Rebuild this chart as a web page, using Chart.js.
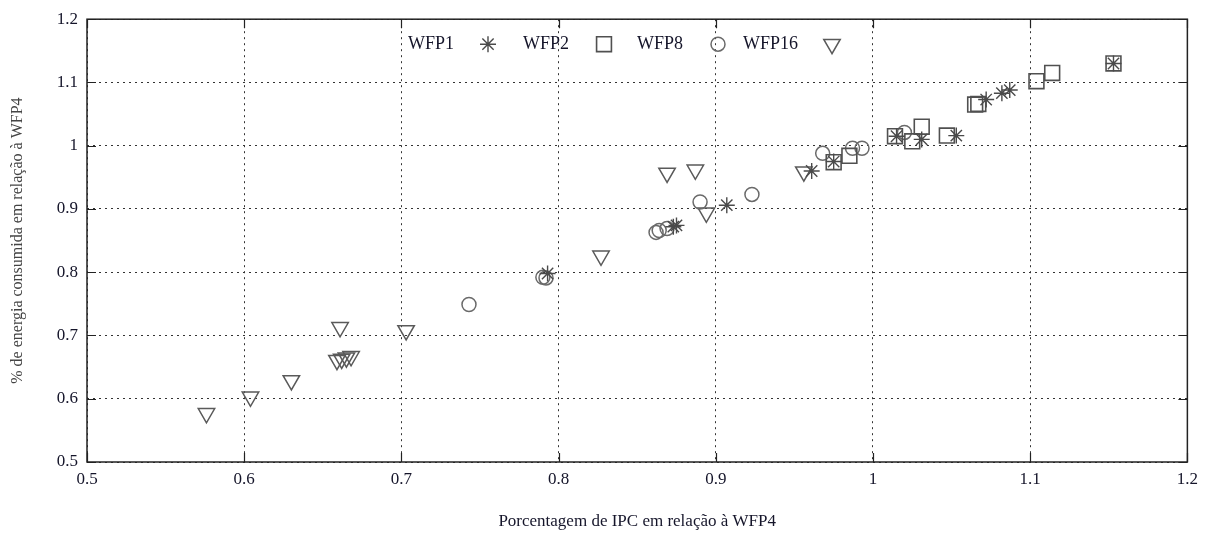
<!DOCTYPE html>
<html>
<head>
<meta charset="utf-8">
<script src="https://cdn.jsdelivr.net/npm/chart.js@4/dist/chart.umd.min.js"></script>
<style>
html,body{margin:0;padding:0;background:#fff;}
#wrap{width:1205px;height:536px;position:relative;}
</style>
</head>
<body>
<div id="wrap"><canvas id="c" width="1205" height="536"></canvas></div>
<script>
const seriesLabels = ["WFP1", "WFP2", "WFP8", "WFP16"];

const wfp1X = [0.793, 0.873, 0.875, 0.907, 0.961, 0.975, 1.015, 1.031, 1.053, 1.072, 1.082, 1.087, 1.153];
const wfp1Y = [0.798, 0.872, 0.874, 0.906, 0.960, 0.975, 1.015, 1.010, 1.016, 1.073, 1.083, 1.088, 1.130];

const wfp2X = [0.975, 0.985, 1.014, 1.025, 1.031, 1.047, 1.065, 1.067, 1.104, 1.114, 1.153];
const wfp2Y = [0.974, 0.984, 1.015, 1.007, 1.030, 1.016, 1.065, 1.066, 1.102, 1.115, 1.130];

const wfp8X = [0.743, 0.790, 0.792, 0.862, 0.864, 0.869, 0.890, 0.923, 0.968, 0.987, 0.993, 1.020];
const wfp8Y = [0.749, 0.792, 0.791, 0.863, 0.866, 0.869, 0.911, 0.923, 0.988, 0.996, 0.996, 1.021];

const wfp16X = [0.576, 0.604, 0.630, 0.659, 0.662, 0.665, 0.668, 0.661, 0.703, 0.827, 0.869, 0.887, 0.894, 0.956];
const wfp16Y = [0.577, 0.603, 0.629, 0.661, 0.663, 0.665, 0.667, 0.713, 0.708, 0.826, 0.957, 0.962, 0.894, 0.959];

const tickValues = [0.5, 0.6, 0.7, 0.8, 0.9, 1.0, 1.1, 1.2];

function pts(xs, ys){ return xs.map((x,i)=>({x:x, y:ys[i]})); }

const serif = "'Liberation Serif', 'DejaVu Serif', serif";
const textColor = '#15152a';

const styles = [
  {pointStyle:'star', radius:8, rotation:0, color:'#4a4a4a', width:1.4},
  {pointStyle:'rect', radius:10.5, rotation:0, color:'#505050', width:1.6},
  {pointStyle:'circle', radius:7, rotation:0, color:'#6a6a6a', width:1.5},
  {pointStyle:'triangle', radius:9.5, rotation:180, color:'#5a5a5a', width:1.5}
];
const dataSets = [pts(wfp1X,wfp1Y), pts(wfp2X,wfp2Y), pts(wfp8X,wfp8Y), pts(wfp16X,wfp16Y)];

const frame = {
  id:'frame',
  afterDraw(chart){
    const ctx = chart.ctx, a = chart.chartArea;
    const xs = chart.scales.x, ys = chart.scales.y;
    ctx.save();
    ctx.strokeStyle = '#222';
    ctx.lineWidth = 1.2;
    ctx.beginPath();
    tickValues.forEach(v=>{
      const px = Math.round(xs.getPixelForValue(v))+0.5;
      ctx.moveTo(px, a.bottom); ctx.lineTo(px, a.bottom-9);
      ctx.moveTo(px, a.top); ctx.lineTo(px, a.top+9);
      const py = Math.round(ys.getPixelForValue(v))+0.5;
      ctx.moveTo(a.left, py); ctx.lineTo(a.left+9, py);
      ctx.moveTo(a.right, py); ctx.lineTo(a.right-9, py);
    });
    ctx.stroke();
    ctx.lineWidth = 1.5;
    ctx.strokeRect(a.left, a.top, a.right-a.left, a.bottom-a.top);
    // legend
    const lx = [a.left+321, a.left+436, a.left+550, a.left+656];
    const sx = [a.left+401, a.left+517, a.left+631, a.left+745];
    const ly = a.top + 25;
    ctx.font = "18px " + serif;
    ctx.textBaseline = 'middle';
    ctx.textAlign = 'left';
    seriesLabels.forEach((lab,i)=>{
      ctx.fillStyle = textColor;
      ctx.fillText(lab, lx[i], ly);
      const s = styles[i];
      ctx.strokeStyle = s.color;
      ctx.fillStyle = 'rgba(0,0,0,0)';
      ctx.lineWidth = s.width;
      Chart.helpers.drawPoint(ctx, {pointStyle:s.pointStyle, radius:s.radius, rotation:s.rotation, borderWidth:s.width}, sx[i], ly);
    });
    ctx.restore();
  }
};

new Chart(document.getElementById('c'), {
  type:'scatter',
  data:{
    datasets: dataSets.map((d,i)=>({
      label: seriesLabels[i],
      data: d,
      pointStyle: styles[i].pointStyle,
      pointRadius: styles[i].radius,
      pointHoverRadius: styles[i].radius,
      pointRotation: styles[i].rotation,
      borderColor: styles[i].color,
      backgroundColor: 'rgba(0,0,0,0)',
      pointBorderWidth: styles[i].width,
      showLine:false
    }))
  },
  options:{
    responsive:false,
    animation:false,
    devicePixelRatio:1,
    layout:{padding:{left:0, right:17, top:19, bottom:0}},
    plugins:{legend:{display:false}, tooltip:{enabled:false}},
    scales:{
      x:{
        type:'linear', min:0.5, max:1.2,
        afterBuildTicks(s){ s.ticks = tickValues.map(v=>({value:v})); },
        afterFit(s){ s.height = 74; },
        ticks:{
          callback:(v)=> String(+v.toFixed(2)),
          font:{family:serif, size:17}, color:textColor, padding:7, maxRotation:0
        },
        grid:{color:'#333', lineWidth:1, drawTicks:false, tickLength:0},
        border:{display:false, dash:[2,4]},
        title:{display:true, text:'Porcentagem de IPC em relação à WFP4', font:{family:serif, size:17}, color:textColor, padding:{top:10}}
      },
      y:{
        type:'linear', min:0.5, max:1.2,
        afterBuildTicks(s){ s.ticks = tickValues.map(v=>({value:v})); },
        afterFit(s){ s.width = 87; },
        ticks:{
          callback:(v)=> String(+v.toFixed(2)),
          font:{family:serif, size:17}, color:textColor, padding:9
        },
        grid:{color:'#333', lineWidth:1, drawTicks:false, tickLength:0},
        border:{display:false, dash:[2,4]},
        title:{display:true, text:'% de energia consumida em relação à WFP4', font:{family:serif, size:16}, color:'#444', padding:{top:8, bottom:0}}
      }
    }
  },
  plugins:[frame]
});
</script>
</body>
</html>
